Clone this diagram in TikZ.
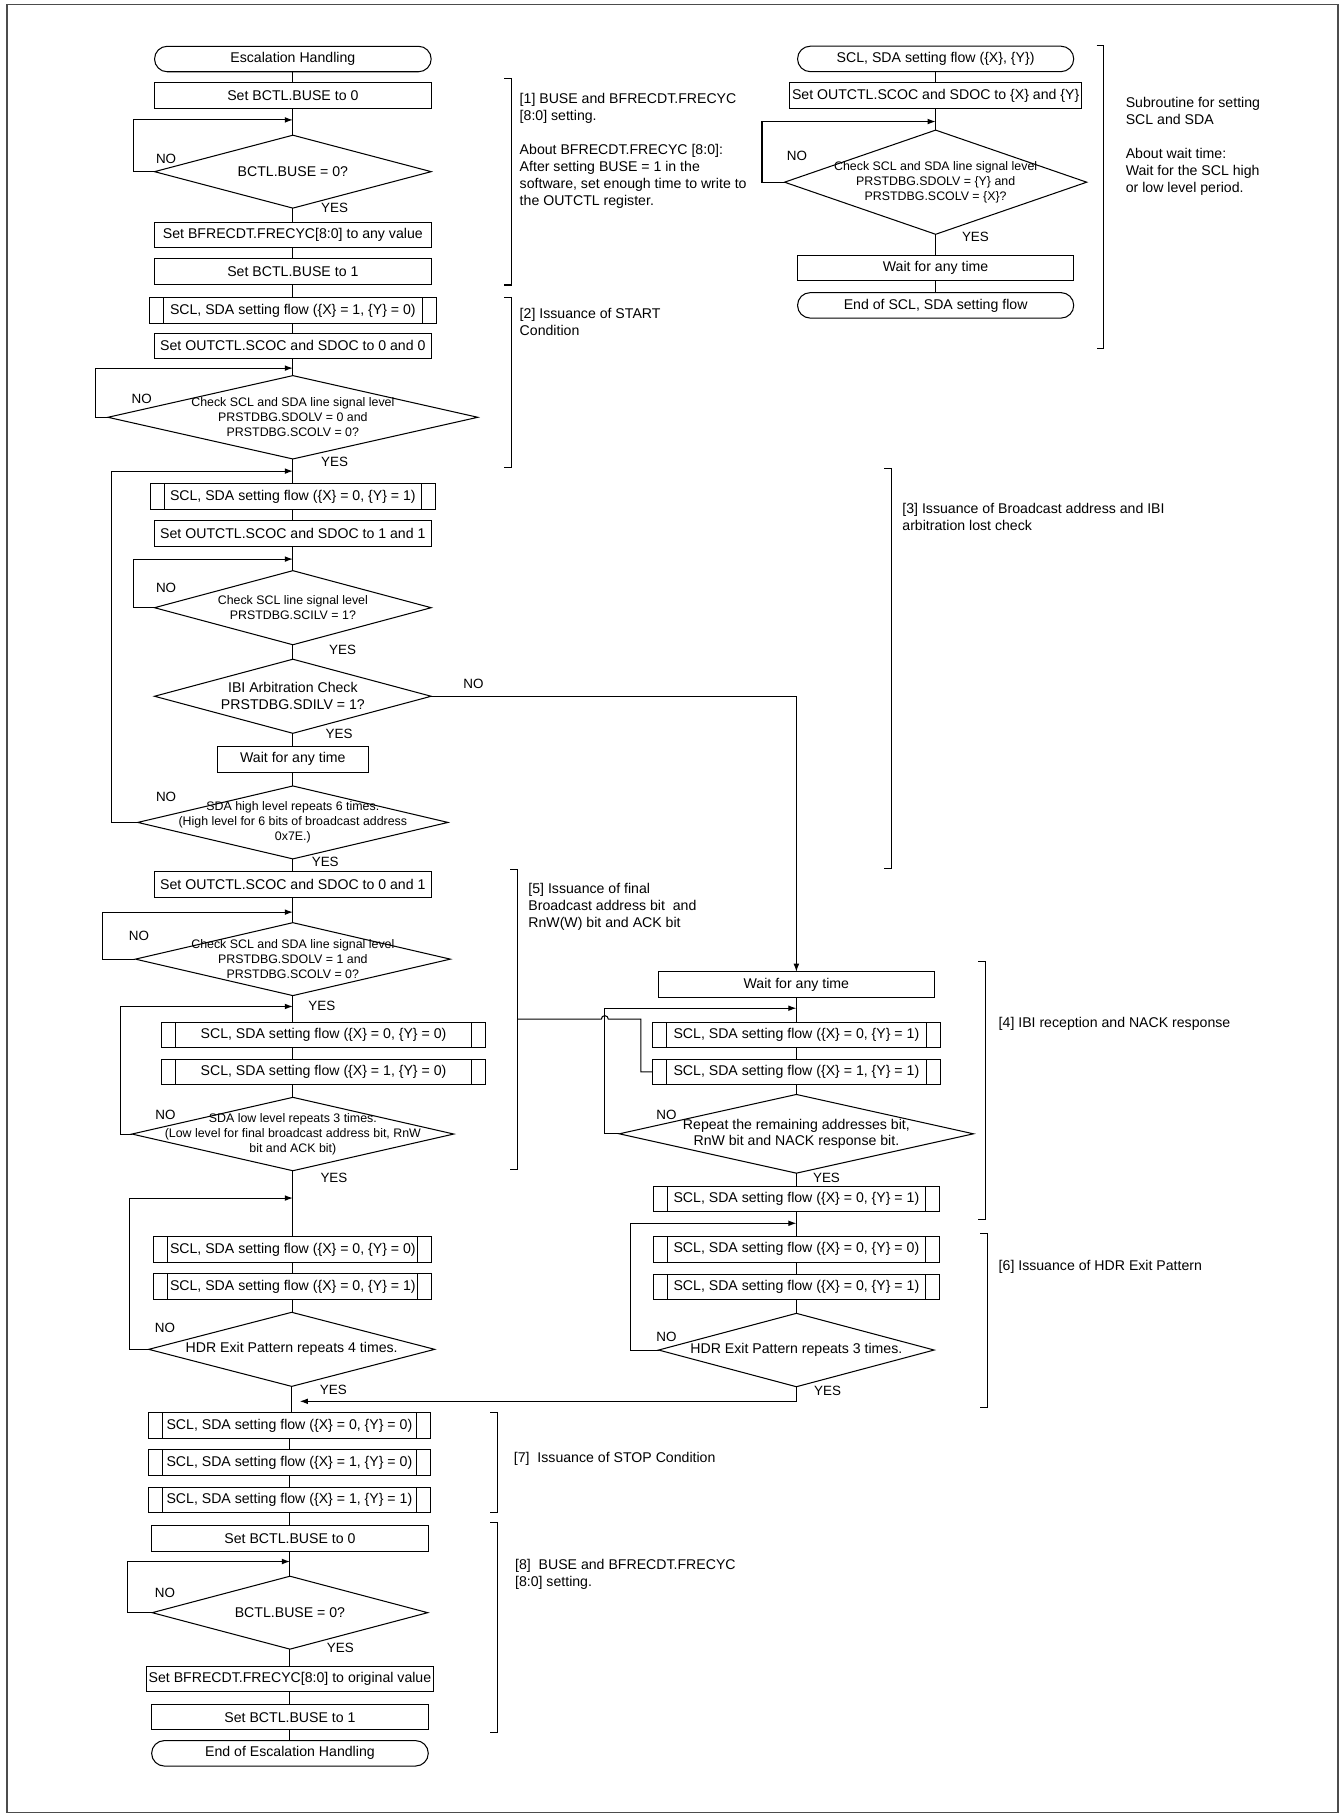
\documentclass[tikz,border=0pt]{standalone}
\usepackage{fontspec}
\setmainfont{Liberation Sans}
\usetikzlibrary{arrows.meta,shapes.geometric}
\newcommand{\fb}{\fontsize{12.2pt}{14.6pt}\selectfont}
\newcommand{\fsm}{\fontsize{10.7pt}{13pt}\selectfont}
\newcommand{\flb}{\fontsize{11.6pt}{13pt}\selectfont}
\begin{document}
\begin{tikzpicture}[x=1pt,y=-1pt,line width=0.9pt,
  every node/.style={inner sep=0pt,outer sep=0pt},
  box/.style={draw,rectangle,minimum width=239pt,minimum height=22pt,font=\fb},
  term/.style={box,rounded corners=11pt},
  pre/.style={box,path picture={\draw[line width=0.9pt]
      ([xshift=12pt]path picture bounding box.north west) -- ([xshift=12pt]path picture bounding box.south west)
      ([xshift=-12pt]path picture bounding box.north east) -- ([xshift=-12pt]path picture bounding box.south east);}},
  dia/.style={draw,diamond,inner sep=0pt},
  dtxt/.style={font=\fsm,align=center},
  dtxtb/.style={font=\fb,align=center},
  lbl/.style={font=\flb},
  ann/.style={font=\fb,align=left,anchor=north west},
  arr/.style={-{Latex[length=7pt,width=5pt]}}]
\useasboundingbox (0,0) rectangle (1160,1568);
\draw[black!70,line width=1.3pt] (6,4) rectangle (1156,1566);

% ---------------- left column ----------------
\node[term] (t1) at (253,51) {Escalation Handling};
\node[box] (b1) at (253,82.5) {Set BCTL.BUSE to 0};
\node[dia,minimum width=239pt,minimum height=63pt] (d1) at (253,148.3) {};
\node[dtxtb] (d1t) at (d1) {BCTL.BUSE = 0?};
\node[box,minimum height=21pt] (b2) at (253,203) {Set BFRECDT.FRECYC[8:0] to any value};
\node[box] (b3) at (253,234.6) {Set BCTL.BUSE to 1};
\node[pre,minimum width=248pt] (p1) at (253,268.2) {SCL, SDA setting flow (\{X\} = 1, \{Y\} = 0)};
\node[box] (b4) at (253,298.8) {Set OUTCTL.SCOC and SDOC to 0 and 0};
\node[dia,minimum width=319.5pt,minimum height=72pt] (d2) at (253,360.5) {};
\node[dtxt] (d2t) at (d2) {Check SCL and SDA line signal level\\PRSTDBG.SDOLV = 0 and\\PRSTDBG.SCOLV = 0?};
\node[pre,minimum width=246pt] (p2) at (253,429) {SCL, SDA setting flow (\{X\} = 0, \{Y\} = 1)};
\node[box] (b5) at (253,461) {Set OUTCTL.SCOC and SDOC to 1 and 1};
\node[dia,minimum width=239pt,minimum height=64pt] (d3) at (253,525) {};
\node[dtxt] (d3t) at (d3) {Check SCL line signal level\\PRSTDBG.SCILV = 1?};
\node[dia,minimum width=239pt,minimum height=64pt] (d4) at (253,601.5) {};
\node[dtxtb] (d4t) at (d4) {IBI Arbitration Check\\PRSTDBG.SDILV = 1?};
\node[box,minimum width=131pt] (w1) at (253,656) {Wait for any time};
\node[dia,minimum width=268pt,minimum height=63pt] (d5) at (253,710.5) {};
\node[dtxt] (d5t) at (d5) {SDA high level repeats 6 times.\\(High level for 6 bits of broadcast address\\0x7E.)};
\node[box] (b6) at (253,764) {Set OUTCTL.SCOC and SDOC to 0 and 1};
\node[dia,minimum width=272pt,minimum height=63pt] (d6) at (253,828.6) {};
\node[dtxt] (d6t) at (d6) {Check SCL and SDA line signal level\\PRSTDBG.SDOLV = 1 and\\PRSTDBG.SCOLV = 0?};
\node[pre,minimum width=280pt] (p3) at (279.5,894) {SCL, SDA setting flow (\{X\} = 0, \{Y\} = 0)};
\node[pre,minimum width=280pt] (p4) at (279.5,926.3) {SCL, SDA setting flow (\{X\} = 1, \{Y\} = 0)};
\node[dia,minimum width=278pt,minimum height=63.4pt] (d7) at (253,979.7) {};
\node[dtxt] (d7t) at (d7) {SDA low level repeats 3 times.\\(Low level for final broadcast address bit, RnW\\bit and ACK bit)};
\node[pre,minimum width=240pt] (p5) at (253,1079.6) {SCL, SDA setting flow (\{X\} = 0, \{Y\} = 0)};
\node[pre,minimum width=240pt] (p6) at (253,1111.3) {SCL, SDA setting flow (\{X\} = 0, \{Y\} = 1)};
\node[dia,minimum width=247pt,minimum height=64pt] (d8) at (252,1165.7) {};
\node[dtxtb] (d8t) at (d8) {HDR Exit Pattern repeats 4 times.};
\node[pre,minimum width=243pt] (p7) at (250,1231.6) {SCL, SDA setting flow (\{X\} = 0, \{Y\} = 0)};
\node[pre,minimum width=243pt] (p8) at (250,1263.6) {SCL, SDA setting flow (\{X\} = 1, \{Y\} = 0)};
\node[pre,minimum width=243pt] (p9) at (250,1296) {SCL, SDA setting flow (\{X\} = 1, \{Y\} = 1)};
\node[box] (b7) at (250.5,1329) {Set BCTL.BUSE to 0};
\node[dia,minimum width=238pt,minimum height=63pt] (d9) at (250.5,1393.2) {};
\node[dtxtb] (d9t) at (d9) {BCTL.BUSE = 0?};
\node[box,minimum width=248pt] (b8) at (250.5,1450.5) {Set BFRECDT.FRECYC[8:0] to original value};
\node[box] (b9) at (250.5,1483.5) {Set BCTL.BUSE to 1};
\node[term] (t2) at (250.5,1514.7) {End of Escalation Handling};

% ---------------- subroutine ----------------
\node[term,minimum width=238.6pt] (r1) at (808.3,50.9) {SCL, SDA setting flow (\{X\}, \{Y\})};
\node[box,minimum width=252.6pt] (r2) at (808.3,82.5) {Set OUTCTL.SCOC and SDOC to \{X\} and \{Y\}};
\node[dia,minimum width=261pt,minimum height=90pt] (r3) at (808.3,157.4) {};
\node[dtxt] (r3t) at (r3) {Check SCL and SDA line signal level\\PRSTDBG.SDOLV = \{Y\} and\\PRSTDBG.SCOLV = \{X\}?};
\node[box,minimum width=238.6pt] (r4) at (808.3,231.4) {Wait for any time};
\node[term,minimum width=238.6pt] (r5) at (808.3,263.8) {End of SCL, SDA setting flow};

% ---------------- right middle column ----------------
\node[box] (w2) at (688,850.5) {Wait for any time};
\node[pre,minimum width=249pt] (q1) at (688,894.3) {SCL, SDA setting flow (\{X\} = 0, \{Y\} = 1)};
\node[pre,minimum width=249pt] (q2) at (688,926) {SCL, SDA setting flow (\{X\} = 1, \{Y\} = 1)};
\node[dia,minimum width=306pt,minimum height=68pt] (q3) at (688,979.5) {};
\node[dtxtb] (q3t) at (q3) {Repeat the remaining addresses bit,\\RnW bit and NACK response bit.};
\node[pre,minimum width=247pt] (q4) at (688,1036) {SCL, SDA setting flow (\{X\} = 0, \{Y\} = 1)};
\node[pre,minimum width=247pt] (q5) at (688,1079.3) {SCL, SDA setting flow (\{X\} = 0, \{Y\} = 0)};
\node[pre,minimum width=247pt] (q6) at (688,1112) {SCL, SDA setting flow (\{X\} = 0, \{Y\} = 1)};
\node[dia,minimum width=238pt,minimum height=63.4pt] (q7) at (688,1166.3) {};
\node[dtxtb] (q7t) at (q7) {HDR Exit Pattern repeats 3 times.};

% ---------------- straight connectors ----------------
\foreach \a/\b in {t1/b1,b1/d1,d1/b2,b2/b3,b3/p1,p1/b4,b4/d2,d2/p2,p2/b5,b5/d3,d3/d4,d4/w1,w1/d5,d5/b6,b6/d6,
  d7/p5,p5/p6,p6/d8,d8/p7,p7/p8,p8/p9,p9/b7,b7/d9,d9/b8,b8/b9,b9/t2,
  r1/r2,r2/r3,r3/r4,r4/r5,w2/q1,q1/q2,q2/q3,q3/q4,q4/q5,q5/q6,q6/q7}
  \draw (\a.south) -- (\a.south |- \b.north);
\draw (d6.south) -- (d6.south |- p3.north);
\draw (p3.south -| d6.south) -- (p4.north -| d6.south);
\draw (p4.south -| d6.south) -- (d7.north);

% ---------------- loops ----------------
\coordinate (j1) at (253,103.6);
\coordinate (j2) at (253,318);
\coordinate (j3) at (253,407);
\coordinate (j4) at (253,483);
\coordinate (j5) at (253,788);
\coordinate (j6) at (253,869.5);
\coordinate (j7) at (253,1035);
\coordinate (j8) at (250.5,1349);
\coordinate (j9) at (808.3,105);
\coordinate (j10) at (688,871);
\coordinate (j11) at (688,1056.8);
\coordinate (j12) at (259,1210.6);
\draw[arr] (d1.west) -- ++(-18,0) |- (j1);
\draw[arr] (d2.west) -- ++(-10.5,0) |- (j2);
\draw[arr] (d5.west) -- ++(-22.5,0) |- (j3);
\draw[arr] (d3.west) -- ++(-18.5,0) |- (j4);
\draw[arr] (d6.west) -- ++(-28.5,0) |- (j5);
\draw[arr] (d7.west) -- ++(-10,0) |- (j6);
\draw[arr] (d8.west) -- ++(-16.5,0) |- (j7);
\draw[arr] (d9.west) -- ++(-21.5,0) |- (j8);
\draw[arr] (r3.west) -- ++(-19.5,0) |- (j9);
\draw[arr] (q3.west) -- ++(-12.5,0) |- (j10);
\draw[arr] (q7.west) -- ++(-24.4,0) |- (j11);
\draw[arr] (d4.east) -| (w2.north);
\draw[arr] (q7.south) |- (j12);

% ---------------- brackets ----------------
\draw (435.5,68.2) -- (441.5,68.2) -- (441.5,246.2) -- (435.5,246.2);
\draw (435.5,257.4) -- (441.5,257.4) -- (441.5,404.2) -- (435.5,404.2);
\draw (764,405) -- (770,405) -- (770,750) -- (764,750);
\draw (845,830.5) -- (851,830.5) -- (851,1053.7) -- (845,1053.7);
\draw (441,751) -- (447,751) -- (447,1010) -- (441,1010);
\draw (847,1065.3) -- (853,1065.3) -- (853,1216) -- (847,1216);
\draw (423.6,1220) -- (429.6,1220) -- (429.6,1307) -- (423.6,1307);
\draw (423.6,1315) -- (429.6,1315) -- (429.6,1496.5) -- (423.6,1496.5);
\draw (947.3,39.7) -- (953.3,39.7) -- (953.3,300.8) -- (947.3,300.8);
\coordinate (k5) at (447,880.4);
\draw (k5) -- (519.5,880.4) .. controls (519.5,876.5) and (525.5,876.5) .. (525.5,880.4) -- (553.6,880.4) |- (q2.west);

% ---------------- annotations ----------------
\node[ann] (a1) at (449,81) {[1] BUSE and BFRECDT.FRECYC\\{[}8:0] setting.\\[14.6pt]About BFRECDT.FRECYC [8:0]:\\After setting BUSE = 1 in the\\software, set enough time to write to\\the OUTCTL register.};
\node[ann] (a2) at (449,266) {[2] Issuance of START\\Condition};
\node[ann] (a3) at (779.6,435) {[3] Issuance of Broadcast address and IBI\\arbitration lost check};
\node[ann] (a4) at (862.8,878.4) {[4] IBI reception and NACK response};
\node[ann] (a5) at (456.5,763.4) {[5] Issuance of final\\Broadcast address bit\ \ and\\RnW(W) bit and ACK bit};
\node[ann] (a6) at (862.8,1089) {[6] Issuance of HDR Exit Pattern};
\node[ann] (a7) at (444,1254.4) {[7]\ \ Issuance of STOP Condition};
\node[ann] (a8) at (445,1347.4) {[8]\ \ BUSE and BFRECDT.FRECYC\\{[}8:0] setting.};
\node[ann] (a9) at (972.6,84.4) {Subroutine for setting\\SCL and SDA\\[14.6pt]About wait time:\\Wait for the SCL high\\or low level period.};

% ---------------- YES / NO labels ----------------
\node[lbl] (n1) at (143.5,137) {NO};   \node[lbl] (y1) at (289,180) {YES};
\node[lbl] (n2) at (122.5,345) {NO};   \node[lbl] (y2) at (289,399) {YES};
\node[lbl] (n3) at (143.5,508) {NO};   \node[lbl] (y3) at (296,561.5) {YES};
\node[lbl] (n4) at (409,591) {NO};     \node[lbl] (y4) at (293,634) {YES};
\node[lbl] (n5) at (143.5,688) {NO};   \node[lbl] (y5) at (281,745) {YES};
\node[lbl] (n6) at (120,808.5) {NO};   \node[lbl] (y6) at (278,869) {YES};
\node[lbl] (n7) at (143,963) {NO};     \node[lbl] (y7) at (288.5,1018) {YES};
\node[lbl] (n8) at (142.5,1147) {NO};  \node[lbl] (y8) at (288,1201) {YES};
\node[lbl] (n9) at (142.5,1376) {NO};  \node[lbl] (y9) at (294,1424) {YES};
\node[lbl] (n10) at (688.5,135) {NO};  \node[lbl] (y10) at (842.7,205) {YES};
\node[lbl] (n11) at (575.7,963) {NO};  \node[lbl] (y11) at (714,1018) {YES};
\node[lbl] (n12) at (575.7,1155) {NO}; \node[lbl] (y12) at (715,1202) {YES};
\end{tikzpicture}
\end{document}
